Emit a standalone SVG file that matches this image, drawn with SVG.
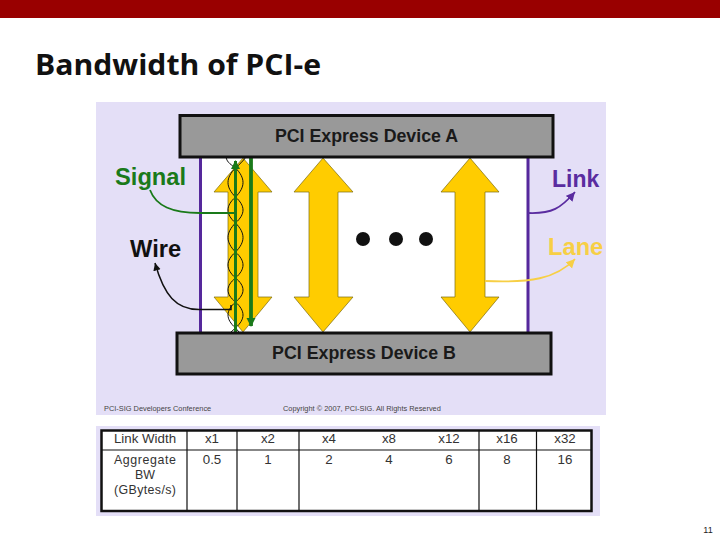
<svg xmlns="http://www.w3.org/2000/svg" width="720" height="540" viewBox="0 0 720 540">
<style>
text{font-family:"Liberation Sans",Arial,sans-serif}
.dev{fill:#999;stroke:#111;stroke-width:3}
.devt{font-size:17.8px;font-weight:bold;fill:#1a1a1a;text-anchor:middle}
.lane{fill:#ffcc00;stroke:#7a6a10;stroke-width:.7}
.lbl{font-size:23.7px;font-weight:bold}
.t{font-size:13.3px;fill:#333;text-anchor:middle}
.t2{font-size:12.4px;fill:#333;text-anchor:middle}
.grid{stroke:#111;stroke-width:1.2;fill:none}
.foot{font-size:7.4px;fill:#444}
</style>
<defs>
<marker id="g" markerUnits="userSpaceOnUse" markerWidth="9" markerHeight="10" refX="8" refY="4.5" orient="auto"><path d="M0 0L9 4.500L0 9Z" fill="#1a7a1a"/></marker>
<marker id="k" markerWidth="7" markerHeight="7" refX="5" refY="2.5" orient="auto"><path d="M0 0L5 2.500L0 5Z" fill="#111"/></marker>
<marker id="p" markerWidth="7" markerHeight="7" refX="5" refY="2.5" orient="auto"><path d="M0 0L5 2.500L0 5Z" fill="#5a2ca0"/></marker>
<marker id="y" markerWidth="7" markerHeight="7" refX="5" refY="2.5" orient="auto"><path d="M0 0L5 2.500L0 5Z" fill="#f7cf45"/></marker>
</defs>
<rect width="720" height="540" fill="#fff"/>
<rect id="header-band" width="720" height="18" fill="#990000"/>
<text id="title" x="35" y="75" font-size="29" font-weight="bold" fill="#111" style="font-family:'Open Sans','Liberation Sans',sans-serif" textLength="286" lengthAdjust="spacingAndGlyphs">Bandwidth of PCI-e</text>
<rect x="96" y="102" width="510" height="313" fill="#e4dff7"/>
<rect x="201" y="157" width="327" height="175" fill="#fff"/>
<g id="connectors" fill="none">
<path d="M200.500 157V332M528 157V332" stroke="#55289c" stroke-width="3"/>
<path class="lane" d="M243 158L272 192H258V297H272L243 332L214 297H228V192H214Z"/>
<path class="lane" d="M323 158L353 192H338V297H353L323 332L294 297H309V192H294Z"/>
<path class="lane" d="M470 158L499 192H485V297H499L470 332L441 297H455V192H441Z"/>
<path d="M226 157C227 163 232 165 235.500 168C245.500 178 245.500 187 235.500 197C225.500 206 225.500 214 235.500 223C245.500 233 245.500 242 235.500 252C225.500 261 225.500 269 235.500 278C245.500 286 245.500 294 235.500 302C225.500 311 225.500 319 235.500 328L239 332" stroke="#111" stroke-width="1"/>
<path d="M246 157C243 161 239 165 235.500 168C225.500 178 225.500 187 235.500 197C245.500 206 245.500 214 235.500 223C225.500 233 225.500 242 235.500 252C245.500 261 245.500 269 235.500 278C225.500 286 225.500 294 235.500 302C245.500 311 245.500 319 235.500 328L231 332" stroke="#111" stroke-width="1"/>
<path d="M235.500 333V161" stroke="#1a7a1a" stroke-width="3" marker-end="url(#g)"/>
<path d="M251 157V326" stroke="#1a7a1a" stroke-width="3.800" marker-end="url(#g)"/>
<path d="M150 190C156 206 172 213 200 213H235" stroke="#1a7a1a" stroke-width="1.800"/>
<path d="M231 305V309.500H200C176 310 164 295 155 263" stroke="#111" stroke-width="1.500" marker-end="url(#k)"/>
<path d="M528 213C552 214 561 208 575 192" stroke="#5a2ca0" stroke-width="1.800" marker-end="url(#p)"/>
<path d="M485 281C530 283 556 279 575 259" stroke="#f7cf45" stroke-width="1.800" marker-end="url(#y)"/>
</g>
<g id="device-a"><rect class="dev" x="180" y="115.500" width="373" height="41.500"/><text class="devt" x="366.500" y="141.500">PCI Express Device A</text></g>
<g id="device-b"><rect class="dev" x="177" y="333" width="374" height="41"/><text class="devt" x="364" y="358.500">PCI Express Device B</text></g>
<g id="dots" fill="#111"><circle cx="363" cy="239" r="7"/><circle cx="396" cy="239" r="7"/><circle cx="426" cy="239" r="7"/></g>
<text class="lbl" x="115" y="185" fill="#1a7a1a">Signal</text>
<text class="lbl" x="130" y="257" fill="#111">Wire</text>
<text class="lbl" x="552" y="187" fill="#5a2ca0" style="font-size:23px">Link</text>
<text class="lbl" x="548" y="255" fill="#f7cf45">Lane</text>
<text class="foot" x="104" y="411">PCI-SIG Developers Conference</text>
<text class="foot" x="283" y="411">Copyright © 2007, PCI-SIG. All Rights Reserved</text>
<g id="bw-table">
<rect x="96" y="426" width="504" height="90" fill="#e4dff7"/>
<rect x="101.500" y="430.500" width="490" height="80.500" fill="#fff" stroke="#111" stroke-width="2.500"/>
<path class="grid" d="M102 450H591M187 430V511M237 430V511M299 430V511M479 430V511M536.500 430V511"/>
<text class="t" x="145" y="443">Link Width</text>
<text class="t" x="212" y="443">x1</text><text class="t" x="268" y="443">x2</text><text class="t" x="329" y="443">x4</text><text class="t" x="389" y="443">x8</text><text class="t" x="449" y="443">x12</text><text class="t" x="507" y="443">x16</text><text class="t" x="565" y="443">x32</text>
<text class="t2" x="145" y="464" textLength="62" lengthAdjust="spacing">Aggregate</text><text class="t2" x="145" y="479">BW</text><text class="t2" x="145" y="494" textLength="62" lengthAdjust="spacing">(GBytes/s)</text>
<text class="t" x="212" y="464">0.5</text><text class="t" x="268" y="464">1</text><text class="t" x="329" y="464">2</text><text class="t" x="389" y="464">4</text><text class="t" x="449" y="464">6</text><text class="t" x="507" y="464">8</text><text class="t" x="565" y="464">16</text>
</g>
<text id="page" x="708" y="533" font-size="9" fill="#222" text-anchor="middle">11</text>
</svg>
